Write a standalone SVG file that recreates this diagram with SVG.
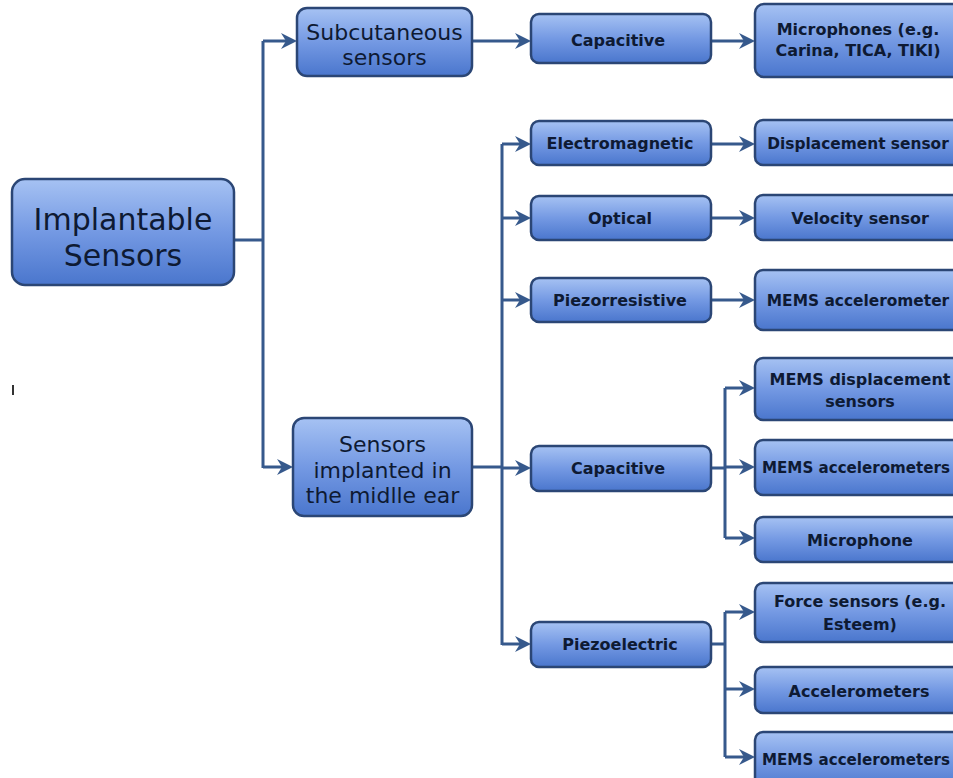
<svg xmlns="http://www.w3.org/2000/svg" width="953" height="778" viewBox="0 0 953 778">
  <defs>
    <linearGradient id="boxFill" x1="0" y1="0" x2="0" y2="1">
      <stop offset="0" stop-color="#a6c2f3"/>
      <stop offset="0.5" stop-color="#7499e3"/>
      <stop offset="1" stop-color="#4a76cd"/>
    </linearGradient>
    <marker id="arrow" viewBox="0 0 16 16" refX="10" refY="8" markerWidth="16" markerHeight="16" orient="auto" markerUnits="userSpaceOnUse">
      <path d="M0,0 L16,8 L0,16 L5,8 Z" fill="#36598c"/>
    </marker>
    <style>
      .box { fill: url(#boxFill); stroke: #2b4675; stroke-width: 2.5; }
      .lbl { font-family: "DejaVu Sans", Verdana, sans-serif; fill: #0e1a33; text-anchor: middle; }
      .big { font-size: 30px; }
      .mid { font-size: 22px; }
      .sm { font-size: 16px; font-weight: bold; }
      .tight { font-size: 15.4px; }
      .wire { fill: none; stroke: #36598c; stroke-width: 3; }
      .arr { fill: none; stroke: #36598c; stroke-width: 3; marker-end: url(#arrow); }
    </style>
  </defs>

  <rect width="953" height="778" fill="#ffffff"/>

  <!-- connectors -->
  <g id="connectors">
    <path class="wire" d="M234,240 H263 M263,41 V468 M472,467 H502 M502,144 V645 M711,468 H725 M725,388 V538 M711,644 H725 M725,612 V757"/>
    <path class="arr" d="M263,41 H291"/>
    <path class="arr" d="M263,467 H287"/>
    <path class="arr" d="M472,41 H525"/>
    <path class="arr" d="M711,41 H749"/>
    <path class="arr" d="M502,144 H525"/>
    <path class="arr" d="M502,218 H525"/>
    <path class="arr" d="M502,300 H525"/>
    <path class="arr" d="M502,468 H525"/>
    <path class="arr" d="M502,644 H525"/>
    <path class="arr" d="M711,144 H749"/>
    <path class="arr" d="M711,218 H749"/>
    <path class="arr" d="M711,300 H749"/>
    <path class="arr" d="M725,388 H749"/>
    <path class="arr" d="M725,467 H749"/>
    <path class="arr" d="M725,538 H749"/>
    <path class="arr" d="M725,612 H749"/>
    <path class="arr" d="M725,689 H749"/>
    <path class="arr" d="M725,757 H749"/>
  </g>

  <!-- root -->
  <g id="implantable-sensors">
    <rect class="box" x="12" y="179" width="222" height="106" rx="13"/>
    <text class="lbl big" x="123" y="230">Implantable</text>
    <text class="lbl big" x="123" y="266">Sensors</text>
  </g>

  <!-- second level -->
  <g id="subcutaneous-sensors">
    <rect class="box" x="297" y="8" width="175" height="68" rx="10"/>
    <text class="lbl mid" x="384.5" y="40">Subcutaneous</text>
    <text class="lbl mid" x="384.5" y="65">sensors</text>
  </g>
  <g id="middle-ear-sensors">
    <rect class="box" x="293" y="418" width="179" height="98" rx="11"/>
    <text class="lbl mid" x="382.5" y="452">Sensors</text>
    <text class="lbl mid" x="382.5" y="478">implanted in</text>
    <text class="lbl mid" x="382.5" y="503">the midlle ear</text>
  </g>

  <!-- transduction principles -->
  <g id="capacitive-subcutaneous">
    <rect class="box" x="531" y="14" width="180" height="49" rx="8"/>
    <text class="lbl sm" x="618" y="46">Capacitive</text>
  </g>
  <g id="electromagnetic">
    <rect class="box" x="531" y="121" width="180" height="44" rx="8"/>
    <text class="lbl sm" x="620" y="149">Electromagnetic</text>
  </g>
  <g id="optical">
    <rect class="box" x="531" y="196" width="180" height="44" rx="8"/>
    <text class="lbl sm" x="620" y="224">Optical</text>
  </g>
  <g id="piezorresistive">
    <rect class="box" x="531" y="278" width="180" height="44" rx="8"/>
    <text class="lbl sm" x="620" y="306">Piezorresistive</text>
  </g>
  <g id="capacitive-middle-ear">
    <rect class="box" x="531" y="446" width="180" height="45" rx="8"/>
    <text class="lbl sm" x="618" y="474">Capacitive</text>
  </g>
  <g id="piezoelectric">
    <rect class="box" x="531" y="622" width="180" height="45" rx="8"/>
    <text class="lbl sm" x="620" y="650">Piezoelectric</text>
  </g>

  <!-- sensor types -->
  <g id="microphones-carina">
    <rect class="box" x="755" y="4" width="212" height="73" rx="9"/>
    <text class="lbl sm" x="858" y="35">Microphones (e.g.</text>
    <text class="lbl sm" x="858" y="56">Carina, TICA, TIKI)</text>
  </g>
  <g id="displacement-sensor">
    <rect class="box" x="755" y="120" width="212" height="45" rx="8"/>
    <text class="lbl sm tight" x="858" y="149">Displacement sensor</text>
  </g>
  <g id="velocity-sensor">
    <rect class="box" x="755" y="195" width="212" height="45" rx="8"/>
    <text class="lbl sm" x="860" y="224">Velocity sensor</text>
  </g>
  <g id="mems-accelerometer">
    <rect class="box" x="755" y="270" width="212" height="60" rx="8"/>
    <text class="lbl sm tight" x="858" y="306">MEMS accelerometer</text>
  </g>
  <g id="mems-displacement-sensors">
    <rect class="box" x="755" y="358" width="212" height="62" rx="8"/>
    <text class="lbl sm" x="860" y="385">MEMS displacement</text>
    <text class="lbl sm" x="860" y="407">sensors</text>
  </g>
  <g id="mems-accelerometers-capacitive">
    <rect class="box" x="755" y="440" width="212" height="55" rx="8"/>
    <text class="lbl sm tight" x="856" y="473" textLength="188" lengthAdjust="spacingAndGlyphs">MEMS accelerometers</text>
  </g>
  <g id="microphone">
    <rect class="box" x="755" y="517" width="212" height="45" rx="8"/>
    <text class="lbl sm" x="860" y="546">Microphone</text>
  </g>
  <g id="force-sensors">
    <rect class="box" x="755" y="583" width="212" height="59" rx="8"/>
    <text class="lbl sm" x="860" y="607">Force sensors (e.g.</text>
    <text class="lbl sm" x="860" y="630">Esteem)</text>
  </g>
  <g id="accelerometers">
    <rect class="box" x="755" y="667" width="212" height="46" rx="8"/>
    <text class="lbl sm" x="859" y="697">Accelerometers</text>
  </g>
  <g id="mems-accelerometers-piezoelectric">
    <rect class="box" x="755" y="732" width="212" height="58" rx="8"/>
    <text class="lbl sm tight" x="856" y="765" textLength="188" lengthAdjust="spacingAndGlyphs">MEMS accelerometers</text>
  </g>

  <!-- small stray mark at left edge -->
  <rect x="12" y="385" width="2" height="10" fill="#333333"/>
</svg>
